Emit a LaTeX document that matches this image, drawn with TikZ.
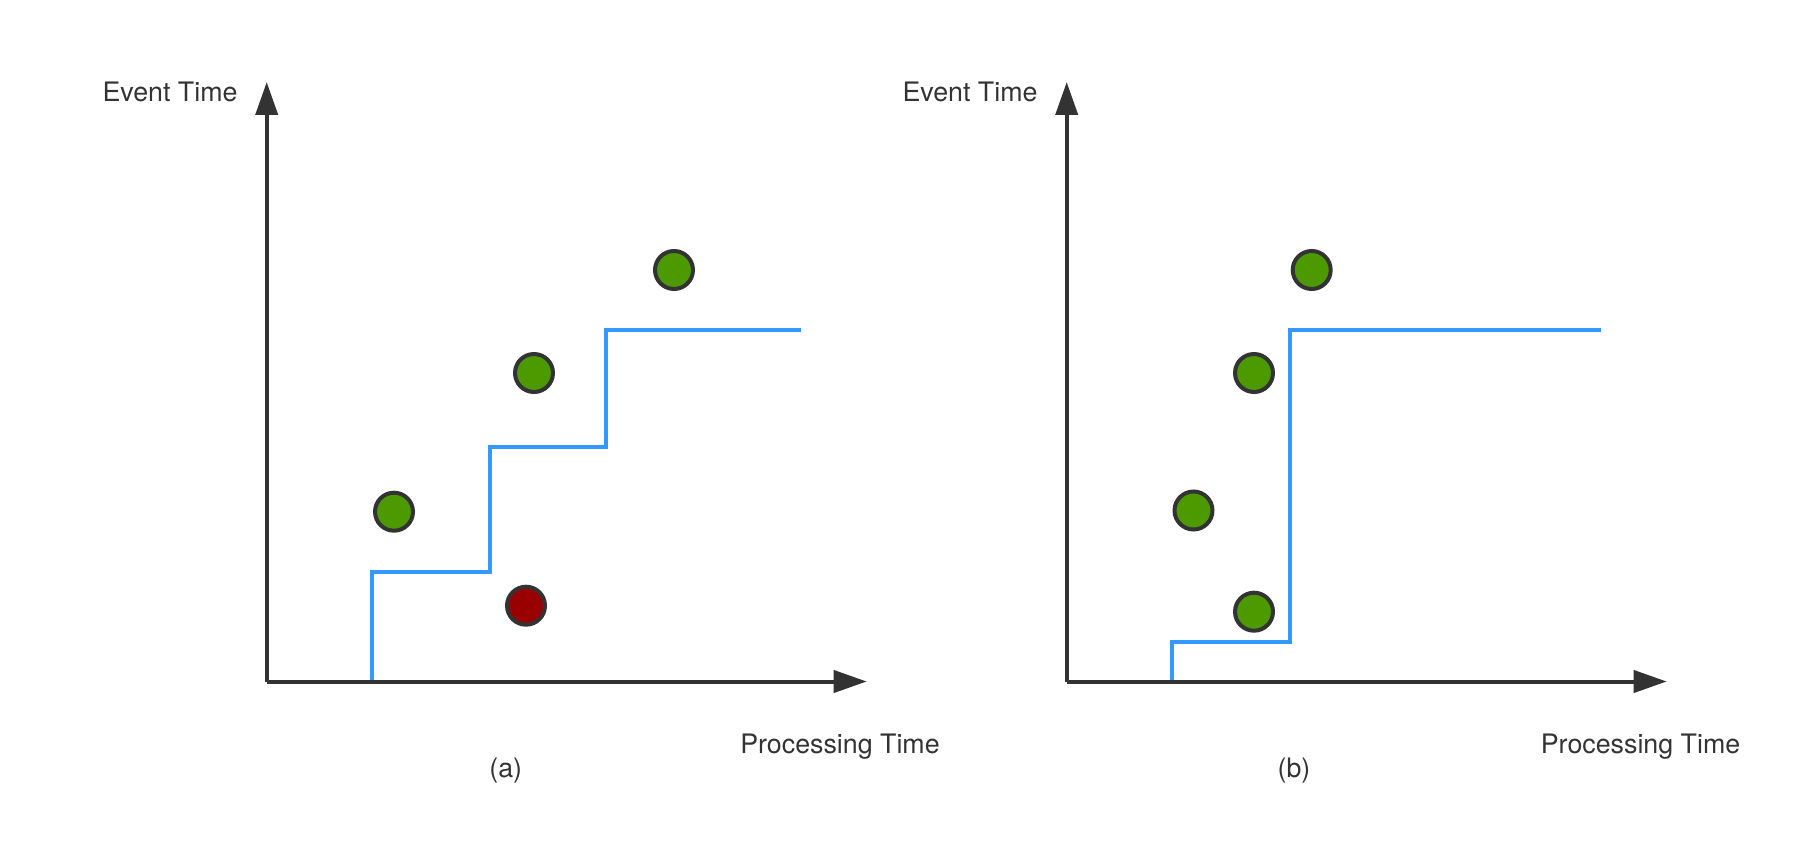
\documentclass[tikz,border=0pt]{standalone}
\usepackage{fontspec}
\setmainfont{TeX Gyre Heros}
\usetikzlibrary{arrows.meta}

\definecolor{axisgray}{HTML}{333333}
\definecolor{wmblue}{HTML}{3399FF}
\definecolor{ongreen}{HTML}{4D9900}
\definecolor{latered}{HTML}{990000}

\tikzset{
  axis/.style={line width=2pt,axisgray,-{Triangle[length=16.5pt,width=11pt]}},
  watermark/.style={line width=2pt,wmblue},
  event/.style={circle,draw=axisgray,line width=2pt,minimum size=19pt,inner sep=0pt},
  lbl/.style={text=axisgray,font=\fontsize{13.4pt}{16pt}\selectfont,anchor=base}
}

\begin{document}
\begin{tikzpicture}[x=0.5pt,y=-0.5pt]
  \useasboundingbox (0,0) rectangle (1810,856);
  % panel (a)
  \coordinate (oa) at (266.7,681.5);
  \coordinate (ya) at (266.7,82);
  \coordinate (xa) at (866.7,681.5);
  \draw[axis] (oa) -- (ya);
  \draw[axis] (oa) -- (xa);
  \node[lbl] (eta) at (170,101.7){Event Time};
  \node[lbl] (pta) at (840,753.3){Processing Time};
  \node[lbl] (capa) at (505.7,777){(a)};
  \draw[watermark] (372,680) |- (490,572) |- (606,446.7) |- (801,330);
  \node[event,fill=ongreen] (a1) at (394,511.7){};
  \node[event,fill=latered] (a2) at (526,605.7){};
  \node[event,fill=ongreen] (a3) at (534,373){};
  \node[event,fill=ongreen] (a4) at (674,270){};
  % panel (b)
  \coordinate (ob) at (1066.7,681.5);
  \coordinate (yb) at (1066.7,82);
  \coordinate (xb) at (1666.7,681.5);
  \draw[axis] (ob) -- (yb);
  \draw[axis] (ob) -- (xb);
  \node[lbl] (etb) at (970,101.7){Event Time};
  \node[lbl] (ptb) at (1640.5,753.3){Processing Time};
  \node[lbl] (capb) at (1294,777){(b)};
  \draw[watermark] (1172,680) |- (1290,642) |- (1601,330);
  \node[event,fill=ongreen] (b1) at (1193.5,510.5){};
  \node[event,fill=ongreen] (b2) at (1254,611.7){};
  \node[event,fill=ongreen] (b3) at (1254,373){};
  \node[event,fill=ongreen] (b4) at (1311.7,270){};
\end{tikzpicture}
\end{document}
